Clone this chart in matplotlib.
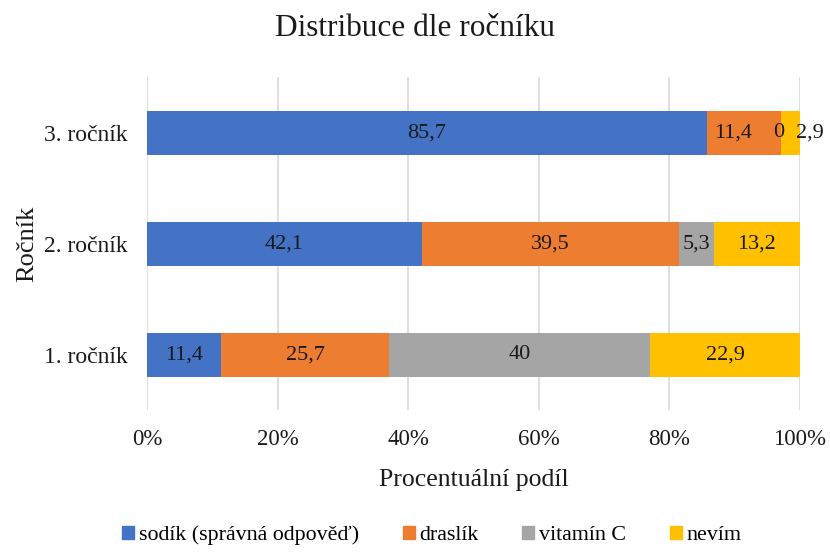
import numpy as np
import matplotlib
matplotlib.use('Agg')
import matplotlib.pyplot as plt
from matplotlib.patches import Patch

plt.rcParams['font.family'] = ['Liberation Serif', 'DejaVu Serif']

rocniky = ['1. ročník', '2. ročník', '3. ročník']
serie = ['sodík (správná odpověď)', 'draslík', 'vitamín C', 'nevím']
sodik = [11.4, 42.1, 85.7]
draslik = [25.7, 39.5, 11.4]
vitamin_c = [40, 5.3, 0]
nevim = [22.9, 13.2, 2.9]
barvy = ['#4472C4', '#ED7D31', '#A5A5A5', '#FFC000']

data = np.array([sodik, draslik, vitamin_c, nevim])
podil = data / data.sum(axis=0)

fig = plt.figure(figsize=(8.3, 5.53), dpi=100)
ax = fig.add_axes([0.1771, 0.2577, 0.7868, 0.6023])

y = np.arange(len(rocniky))
left = np.zeros(len(rocniky))
for s in range(len(serie)):
    ax.barh(y, podil[s], left=left, height=0.4, color=barvy[s], zorder=2)
    for i in range(len(rocniky)):
        hodnota = data[s, i]
        x = left[i] + podil[s, i] / 2
        # malé úseky posunuté, aby se popisky nepřekrývaly
        if s == 3 and podil[s, i] < 0.05:
            x = left[i] + podil[s, i] + 0.015
        elif s == 1 and i == 2:
            x -= 0.017
        elif s == 2 and podil[s, i] == 0:
            x -= 0.004
        txt = ('%g' % hodnota).replace('.', ',')
        ax.text(x, y[i], txt, ha='center', va='center', fontsize=16, color='#1a1a1a', zorder=3)
    left += podil[s]

ax.set_xlim(0, 1)
ax.set_ylim(-0.5, 2.5)
ax.set_xticks(np.linspace(0, 1, 6))
ax.set_xticklabels(['%d%%' % v for v in range(0, 101, 20)], fontsize=16.5, color='#1a1a1a')
ax.set_yticks(y)
ax.set_yticklabels(rocniky, fontsize=17, color='#1a1a1a')
ax.tick_params(axis='x', length=0, pad=13)
ax.tick_params(axis='y', length=0, pad=14)
ax.grid(axis='x', color='#d9d9d9', lw=1.2, zorder=0)
for sp in ax.spines.values():
    sp.set_visible(False)

ax.set_xlabel('Procentuální podíl', fontsize=18.5, color='#1a1a1a', labelpad=14)
ax.set_ylabel('Ročník', fontsize=19, color='#1a1a1a', labelpad=4)
fig.suptitle('Distribuce dle ročníku', fontsize=22.5, y=0.975, color='#1a1a1a')

handles = [Patch(color=c) for c in barvy]
fig.legend(handles, serie, loc='lower center', bbox_to_anchor=(0.52, -0.022), ncol=4,
           frameon=False, fontsize=15.8, handlelength=0.55, handleheight=0.55,
           handletextpad=0.2, columnspacing=2.0)

fig.savefig('out.png', dpi=100)
